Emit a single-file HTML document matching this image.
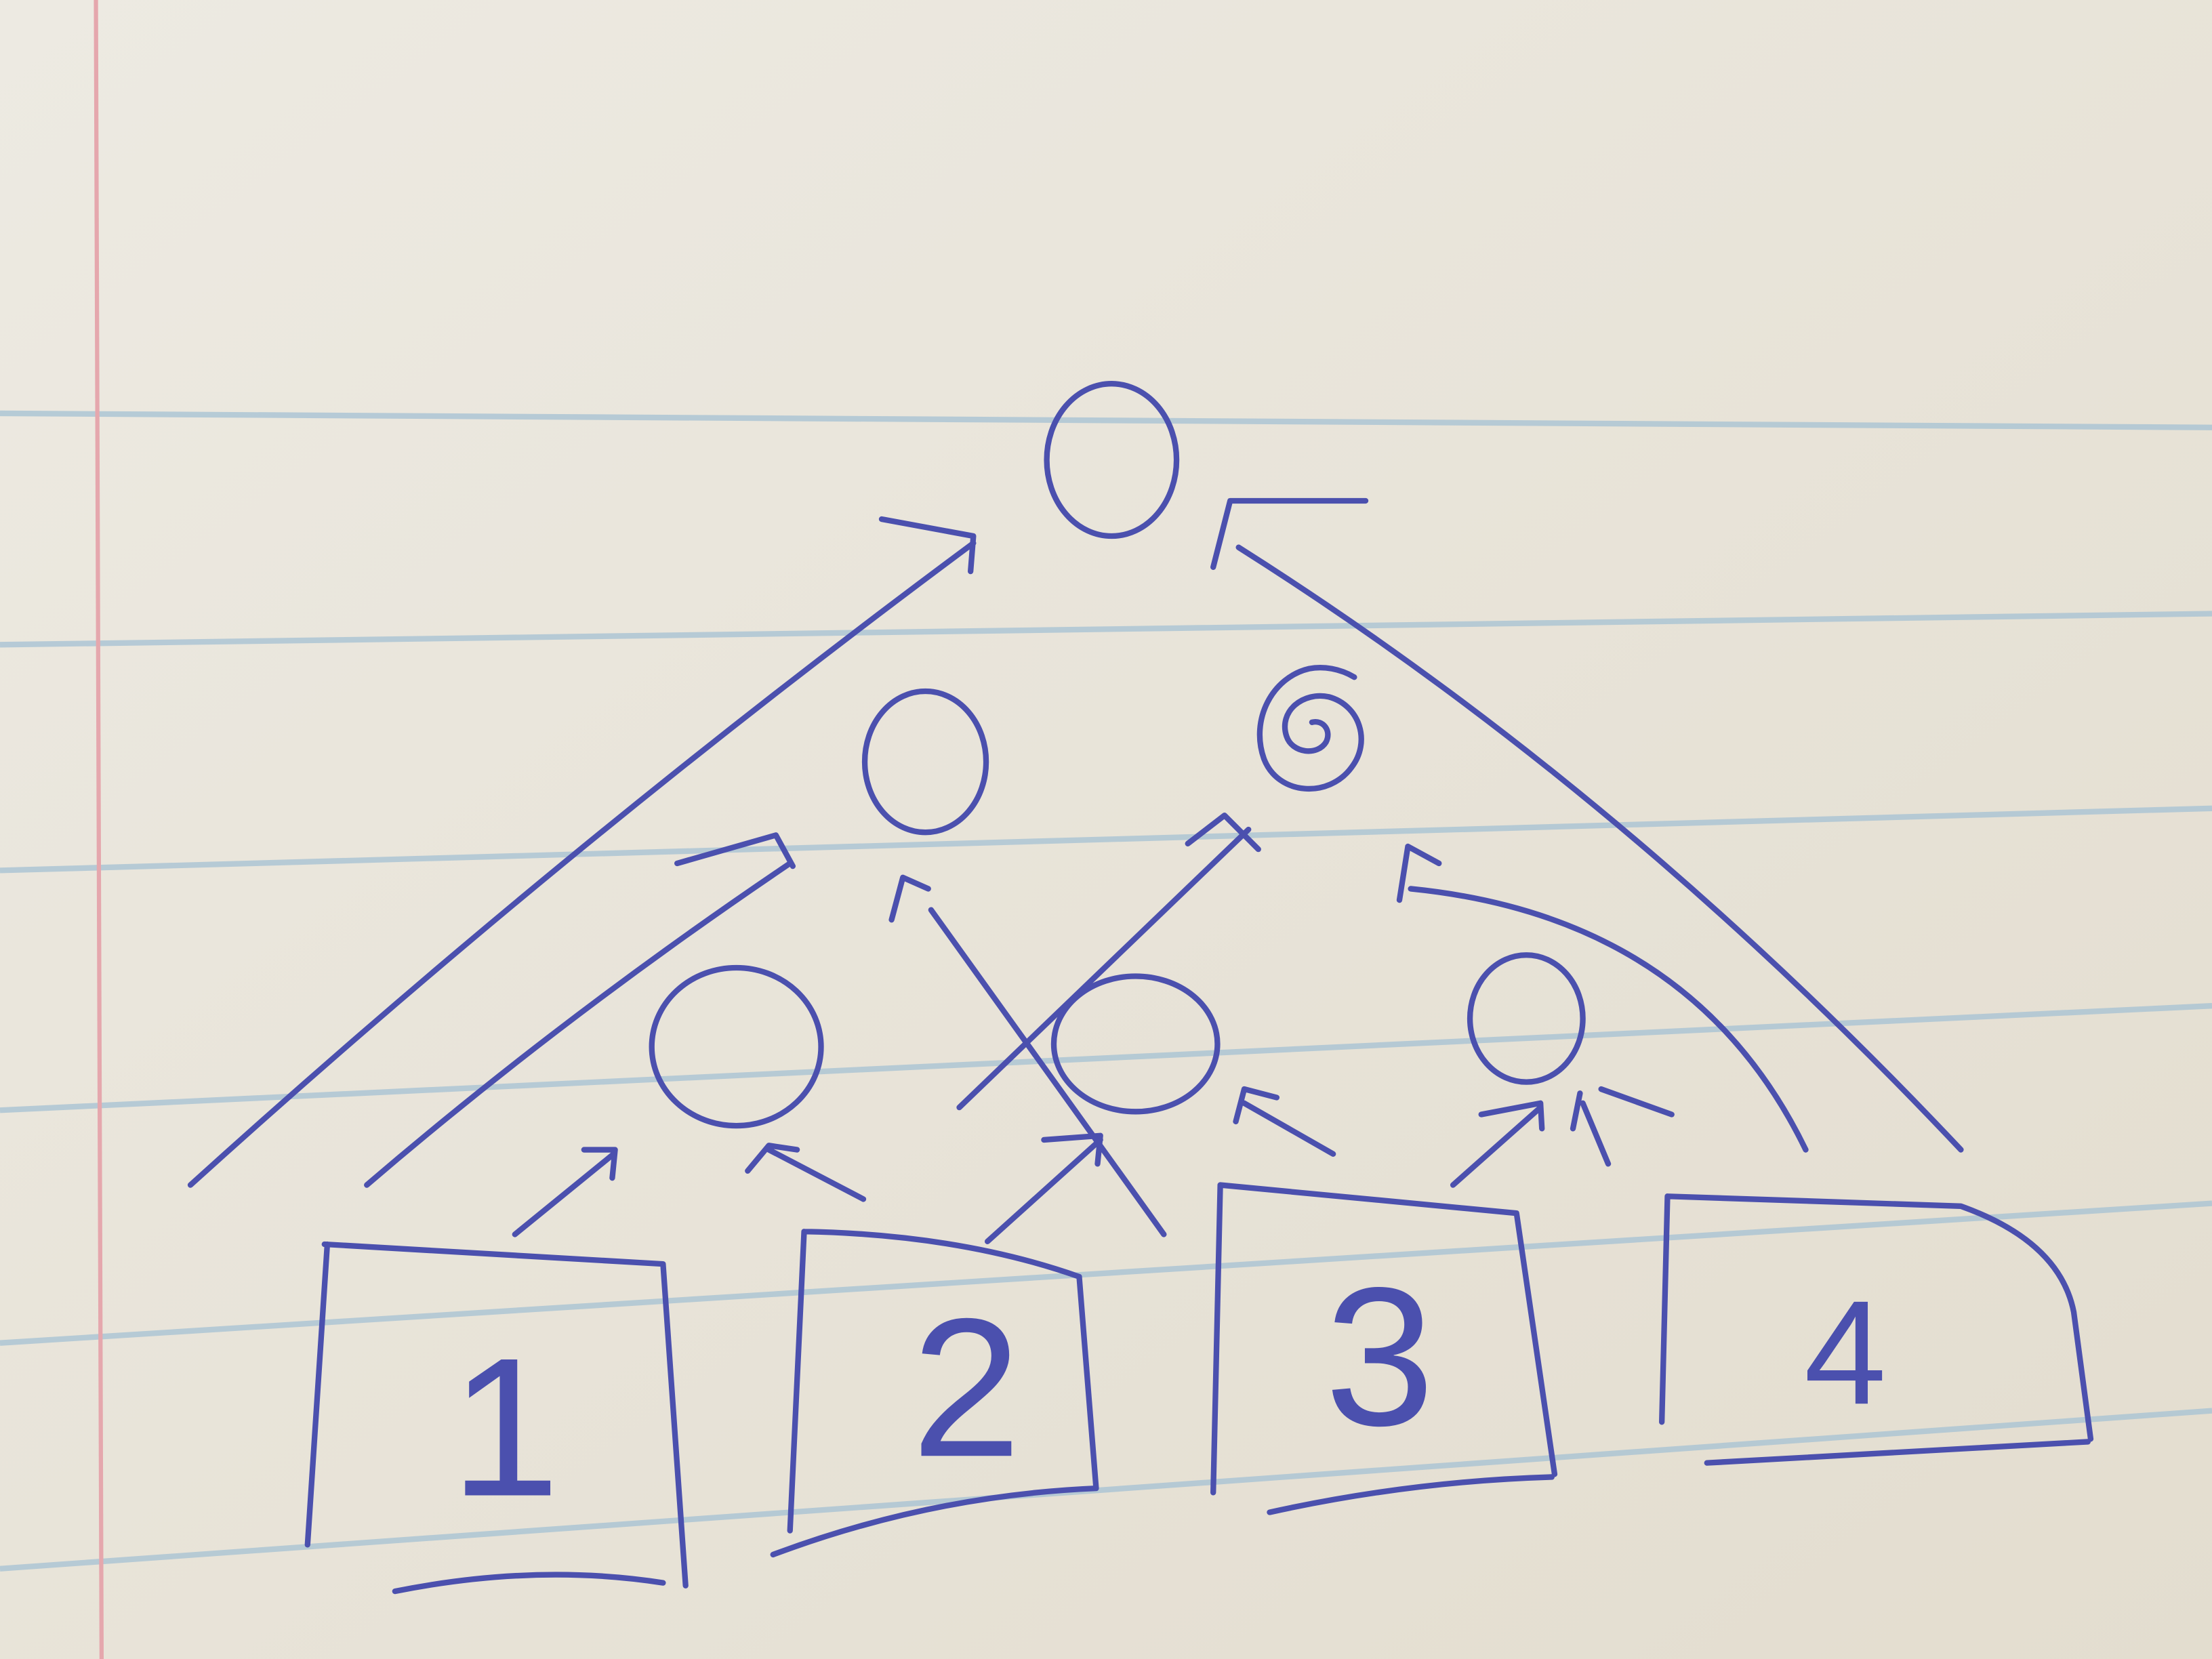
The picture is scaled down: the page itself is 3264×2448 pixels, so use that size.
<!DOCTYPE html>
<html><head><meta charset="utf-8"><style>
html,body{margin:0;padding:0;background:#e9e6dc;}
svg{display:block;}
</style></head><body>
<svg width="3264" height="2448" viewBox="0 0 1568 1176" preserveAspectRatio="none" xmlns="http://www.w3.org/2000/svg">
<defs><linearGradient id="bg" x1="0" y1="0" x2="1" y2="1"><stop offset="0" stop-color="#edeae2"/><stop offset="1" stop-color="#e3ddcf"/></linearGradient></defs>
<rect width="1568" height="1176" fill="url(#bg)"/>
<g stroke="#a9c3d3" stroke-width="4" fill="none" opacity="0.8">
<line x1="0" y1="293" x2="1568" y2="303"/>
<line x1="0" y1="457" x2="1568" y2="435"/>
<line x1="0" y1="617" x2="1568" y2="573"/>
<line x1="0" y1="787" x2="1568" y2="713"/>
<line x1="0" y1="952" x2="1568" y2="853"/>
<line x1="0" y1="1112" x2="1568" y2="1000"/>
</g>
<line x1="68" y1="0" x2="72" y2="1176" stroke="#e5a7ad" stroke-width="3"/>
<g stroke="#4b50ae" stroke-width="4" fill="none" stroke-linecap="round" stroke-linejoin="round">
<ellipse cx="788" cy="326" rx="46" ry="54"/>
<ellipse cx="656" cy="540" rx="43" ry="50"/>
<path d="M930 512 c8 -2 14 6 10 14 c-6 10 -24 8 -28 -4 c-6 -18 12 -32 30 -28 c22 6 30 32 16 50 c-16 22 -52 20 -62 -6 c-10 -28 6 -58 32 -64 c10 -2 22 0 32 6"/>
<ellipse cx="522" cy="742" rx="60" ry="56"/>
<ellipse cx="805" cy="740" rx="58" ry="48"/>
<ellipse cx="1082" cy="722" rx="40" ry="45"/>
<path d="M230 882 L470 896 L486 1124 M232 882 L218 1095 M280 1128 Q380 1108 470 1122"/>
<path d="M570 873 Q680 875 765 905 L777 1055 M570 873 L560 1085 M548 1102 Q660 1060 777 1055"/>
<path d="M865 840 L1075 860 L1102 1045 M865 840 L860 1058 M900 1072 Q1000 1050 1100 1047"/>
<path d="M1182 848 L1390 855 Q1460 880 1470 930 L1482 1020 M1182 848 L1178 1008 M1210 1037 L1480 1022"/>
<path d="M135 840 Q400 600 690 385 M625 368 L690 380 L688 405"/>
<path d="M260 840 Q400 720 560 612 M480 612 L550 592 L562 614"/>
<path d="M365 875 L435 818 M414 815 L436 815 L434 835"/>
<path d="M612 850 L545 815 M530 830 L545 812 L565 815"/>
<path d="M700 880 L780 808 M740 808 L780 805 L778 825"/>
<path d="M825 875 L660 645 M632 652 L640 622 L658 630"/>
<path d="M680 785 L885 588 M842 598 L868 578 L892 602"/>
<path d="M945 818 L882 782 M876 795 L882 772 L905 778"/>
<path d="M1030 840 L1092 785 M1050 790 L1092 782 L1093 800"/>
<path d="M1140 825 L1122 782 M1135 772 L1185 790 M1115 800 L1120 775"/>
<path d="M1280 815 Q1200 650 1000 630 M992 638 L998 600 L1020 612"/>
<path d="M1390 815 Q1150 560 878 388 M860 402 L872 355 L968 355"/>
</g>
<g font-family="Liberation Sans, sans-serif" font-size="140" fill="#4b50ae" text-anchor="middle">
<text x="358" y="1060">1</text>
<text x="685" y="1032">2</text>
<text x="978" y="1010">3</text>
<text x="1308" y="995" font-size="105">4</text>
</g>
</svg>
</body></html>
